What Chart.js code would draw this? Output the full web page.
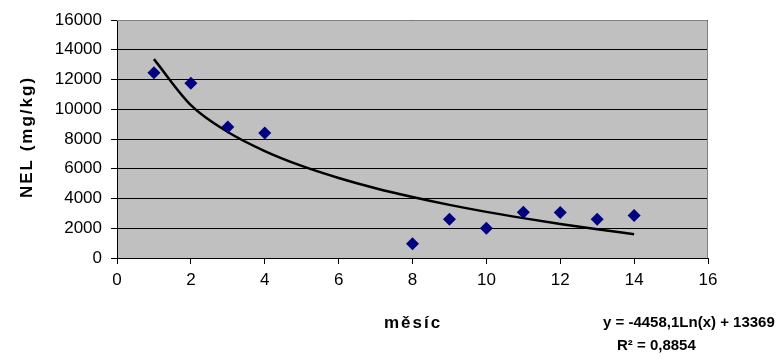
<!DOCTYPE html>
<html>
<head>
<meta charset="utf-8">
<script src="https://cdn.jsdelivr.net/npm/chart.js@4.4.0/dist/chart.umd.min.js"></script>
<style>
    html, body { margin: 0; padding: 0; background: #ffffff; }
    #wrap { width: 779px; height: 359px; position: relative; }
</style>
</head>
<body>
<div id="wrap"><canvas id="nel-chart"></canvas></div>
<script>
// Naměřené hodnoty
const mesice = [1, 2, 3, 4, 8, 9, 10, 11, 12, 13, 14];
const nelHodnoty = [12450, 11750, 8800, 8400, 950, 2600, 2000, 3080, 3060, 2600, 2850];

// Logaritmická spojnice trendu (odečteno z křivky)
const trendX = [1, 2, 3, 4, 5, 6, 7, 8, 9, 10, 11, 12, 13, 14];
const trendY = [13370, 10280, 8470, 7190, 6190, 5380, 4690, 4100, 3570, 3100, 2680, 2290, 1930, 1600];

const xTicks = [0, 2, 4, 6, 8, 10, 12, 14, 16];
const yTicks = [0, 2000, 4000, 6000, 8000, 10000, 12000, 14000, 16000];

const osaX = 'měsíc';
const osaY = 'NEL (mg/kg)';
const rovnice = 'y = -4458,1Ln(x) + 13369';
const spolehlivost = 'R² = 0,8854';

// Šedé pozadí plochy grafu + popisky
const plotArea = {
    id: 'plotArea',
    beforeDraw(chart) {
        const { ctx, chartArea: a } = chart;
        ctx.save();
        ctx.fillStyle = '#c0c0c0';
        ctx.fillRect(a.left, a.top, a.right - a.left, a.bottom - a.top);
        ctx.restore();
    },
    afterDatasetsDraw(chart) {
        const { ctx, chartArea: a } = chart;
        ctx.save();
        ctx.strokeStyle = '#808080';
        ctx.lineWidth = 1;
        ctx.beginPath();
        ctx.moveTo(a.left, a.top + 0.5);
        ctx.lineTo(a.right - 0.5, a.top + 0.5);
        ctx.lineTo(a.right - 0.5, a.bottom);
        ctx.stroke();
        ctx.restore();
    },
    afterDraw(chart) {
        const { ctx } = chart;
        ctx.save();
        ctx.fillStyle = '#000000';
        ctx.textBaseline = 'middle';

        ctx.font = 'bold 17px "Liberation Sans", Arial, sans-serif';
        ctx.letterSpacing = '2px';
        ctx.textAlign = 'center';
        ctx.fillText(osaX, 413, 323);

        ctx.save();
        ctx.translate(27, 137);
        ctx.rotate(-Math.PI / 2);
        ctx.fillText(osaY, 0, 0);
        ctx.restore();

        ctx.font = 'bold 15px "Liberation Sans", Arial, sans-serif';
        ctx.letterSpacing = '0px';
        ctx.textAlign = 'left';
        ctx.fillText(rovnice, 603, 323);
        ctx.fillText(spolehlivost, 617, 346);
        ctx.restore();
    }
};

const tickFont = { family: '"Liberation Sans", Arial, sans-serif', size: 17 };

new Chart(document.getElementById('nel-chart'), {
    type: 'scatter',
    data: {
        datasets: [{
            label: 'NEL',
            data: mesice.map((m, i) => ({ x: m, y: nelHodnoty[i] })),
            pointStyle: 'rectRot',
            pointRadius: 6.5,
            pointBackgroundColor: '#000080',
            pointBorderColor: '#000080',
            pointBorderWidth: 0,
            order: 1
        }, {
            label: 'Trend',
            data: trendX.map((m, i) => ({ x: m, y: trendY[i] })),
            showLine: true,
            borderColor: '#000000',
            borderWidth: 2.5,
            pointRadius: 0,
            cubicInterpolationMode: 'monotone',
            order: 2
        }]
    },
    options: {
        responsive: true,
        maintainAspectRatio: false,
        animation: false,
        layout: { padding: { left: 0, right: 71, top: 20, bottom: 0 } },
        plugins: {
            legend: { display: false },
            tooltip: { enabled: false }
        },
        scales: {
            x: {
                type: 'linear',
                min: 0,
                max: 16,
                afterBuildTicks: axis => { axis.ticks = xTicks.map(v => ({ value: v })); },
                afterFit: axis => { axis.height = 101; },
                grid: {
                    drawOnChartArea: false,
                    drawTicks: true,
                    tickLength: 6,
                    color: '#000000'
                },
                border: { color: '#000000', width: 1 },
                ticks: {
                    color: '#000000',
                    font: tickFont,
                    padding: 6,
                    maxRotation: 0,
                    callback: v => String(v)
                }
            },
            y: {
                type: 'linear',
                min: 0,
                max: 16000,
                afterBuildTicks: axis => { axis.ticks = yTicks.map(v => ({ value: v })); },
                afterFit: axis => { axis.width = 117; },
                grid: {
                    color: '#000000',
                    lineWidth: 1,
                    tickLength: 6
                },
                border: { color: '#000000', width: 1 },
                ticks: {
                    color: '#000000',
                    font: tickFont,
                    padding: 9,
                    callback: v => String(v)
                }
            }
        }
    },
    plugins: [plotArea]
});
</script>
</body>
</html>
